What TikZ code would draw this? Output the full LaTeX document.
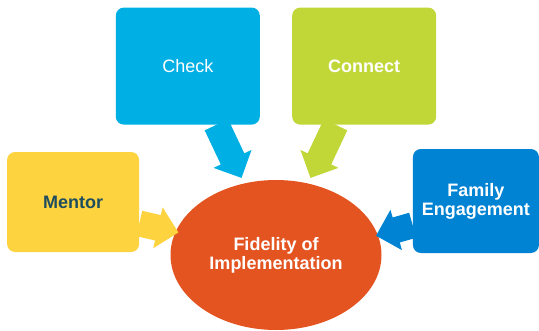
\documentclass[tikz,border=0pt]{standalone}
\usepackage{fontspec}
\setmainfont{Liberation Sans}
\usetikzlibrary{positioning,shapes.geometric,calc}

\definecolor{mentoryellow}{HTML}{FDD33F}
\definecolor{checkcyan}{HTML}{00B0E5}
\definecolor{connectlime}{HTML}{C1D637}
\definecolor{familyblue}{HTML}{0083D2}
\definecolor{hubred}{HTML}{E45421}
\definecolor{mentortext}{HTML}{1E4D5E}

\begin{document}
\begin{tikzpicture}[x=1pt, y=-1pt,
    boxnode/.style={rectangle, rounded corners=8pt, inner sep=0pt, align=center,
        font=\fontsize{18}{19}\selectfont, text=white},
    hubnode/.style={ellipse, fill=hubred, inner sep=0pt, minimum width=211pt, minimum height=150pt,
        align=center, font=\fontsize{18}{19}\selectfont\bfseries, text=white},
    flowarrow/.style={to path={let \p1=(\tikztostart), \p2=(\tikztotarget),
        \n1={atan2(\y2-\y1,\x2-\x1)} in
        ($(\p1)+(\n1+90:13pt)$)
        -- ($(\p2)+(\n1+180:21pt)+(\n1+90:13pt)$)
        -- ($(\p2)+(\n1+180:21pt)+(\n1+90:21pt)$)
        -- (\p2)
        -- ($(\p2)+(\n1+180:21pt)+(\n1-90:21pt)$)
        -- ($(\p2)+(\n1+180:21pt)+(\n1-90:13pt)$)
        -- ($(\p1)+(\n1-90:13pt)$) -- cycle}},
    ]
      \useasboundingbox (0,0) rectangle (539,330);

      %Nodes
      \node      (fid)     [hubnode] at (276,255)  {Fidelity of\\Implementation};
      \node      (mentor)  [boxnode, fill=mentoryellow, minimum width=132pt, minimum height=100pt,
                            left=31pt of fid.west, yshift=53pt, text=mentortext, font=\fontsize{18}{19}\selectfont\bfseries]
                           {Mentor};
      \node      (check)   [boxnode, fill=checkcyan, minimum width=144pt, minimum height=117pt,
                            above left=55pt and 16pt of fid.north]  {Check};
      \node      (connect) [boxnode, fill=connectlime, minimum width=144pt, minimum height=117pt,
                            above right=55pt and 16pt of fid.north, font=\fontsize{18}{19}\selectfont\bfseries]
                           {Connect};
      \node      (family)  [boxnode, fill=familyblue, minimum width=126pt, minimum height=104pt,
                            right=31pt of fid.east, yshift=54pt, font=\fontsize{18}{19}\selectfont\bfseries]
                           {Family\\Engagement};

      %Lines
      \fill[mentoryellow] (mentor.-18)  to[flowarrow] ($(fid.167)!-3pt!(mentor.-18)$);
      \fill[checkcyan] (check.-64)  to[flowarrow] ($(fid.114)!6pt!(check.-64)$);
      \fill[connectlime] (connect.-116)  to[flowarrow] ($(fid.66)!6pt!(connect.-116)$);
      \fill[familyblue] (family.201.6)  to[flowarrow] ($(fid.11.6)!-2pt!(family.201.6)$);
    \end{tikzpicture}
\end{document}
